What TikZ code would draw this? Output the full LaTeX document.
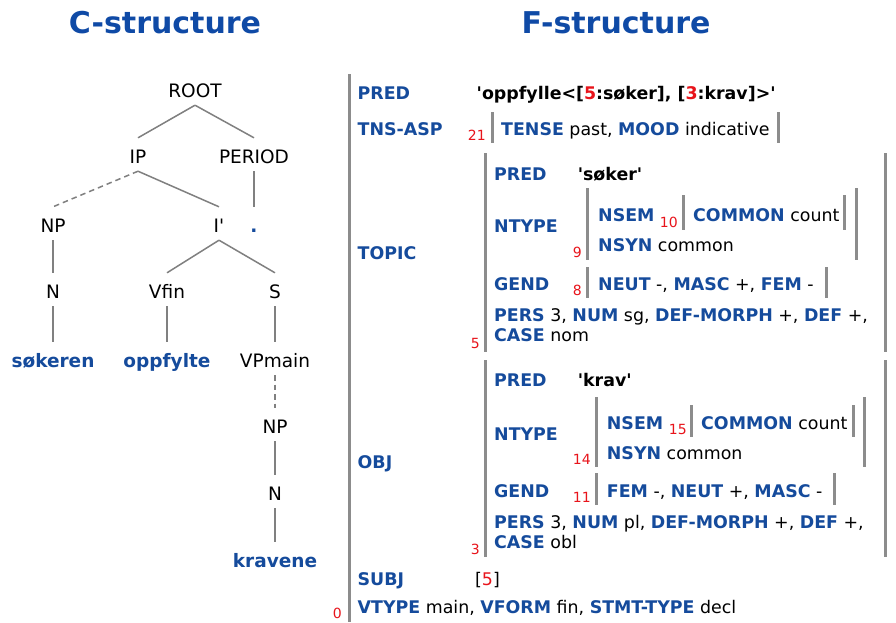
\documentclass[tikz,border=0pt]{standalone}
\usepackage{fontspec}
\setmainfont{DejaVu Sans}
\definecolor{fblue}{HTML}{154B9C}
\definecolor{tblue}{HTML}{0F4AA6}
\definecolor{fred}{HTML}{E8141B}
\definecolor{barg}{HTML}{8C8C8C}
\definecolor{edgeg}{HTML}{808080}
\newcommand\K[1]{\textbf{\textcolor{fblue}{#1}}}
\newcommand\R[1]{\textcolor{fred}{#1}}
\newcommand\sq{\textquotesingle}
\begin{document}
\begin{tikzpicture}[x=1pt,y=-1pt,
  tn/.style={anchor=base, inner sep=0pt, text height=25pt, text depth=8pt, font=\fontsize{18.5}{20}\selectfont},
  leaf/.style={tn, text=fblue, font=\bfseries\fontsize{18.5}{20}\selectfont},
  edge/.style={draw=edgeg, line width=1.5pt},
  dedge/.style={edge, dash pattern=on 5.5pt off 4pt},
  ft/.style={anchor=base west, inner sep=0pt, font=\fontsize{17.4}{20}\selectfont},
  num/.style={anchor=base east, inner sep=0pt, text=fred, font=\fontsize{14}{15}\selectfont},
  fbar/.style={draw=barg, line width=3pt},
  ttl/.style={anchor=base, inner sep=0pt, text=tblue, font=\bfseries\fontsize{30}{32}\selectfont}]
\useasboundingbox (0,0) rectangle (896,622);
\fill[white] (0,0) rectangle (896,622);
% titles
\node[ttl] (ctitle) at (165,33) {C-structure};
\node[ttl] (ftitle) at (616,33) {F-structure};
% c-structure tree
\node[tn] (root) at (195,97) {ROOT};
\node[tn] (ip) at (138,163) {IP};
\node[tn] (period) at (254,163) {PERIOD};
\node[tn] (np1) at (53,232) {NP};
\node[tn] (ibar) at (219,232) {I\sq};
\node[leaf] (dot) at (254,232) {.};
\node[tn] (n1) at (53,298) {N};
\node[tn] (vfin) at (167,298) {Vfin};
\node[tn] (s) at (275,298) {S};
\node[leaf] (w1) at (53,367) {søkeren};
\node[leaf] (w2) at (167,367) {oppfylte};
\node[tn] (vp) at (275,367) {VPmain};
\node[tn] (np2) at (275,433) {NP};
\node[tn] (n2) at (275,500) {N};
\node[leaf] (w3) at (275,567) {kravene};
\draw[edge] (root.south) -- (ip.north);
\draw[edge] (root.south) -- (period.north);
\draw[dedge] (ip.south) -- (np1.north);
\draw[edge] (ip.south) -- (ibar.north);
\draw[edge] (period.south) -- (dot.north);
\draw[edge] (np1.south) -- (n1.north);
\draw[edge] (ibar.south) -- (vfin.north);
\draw[edge] (ibar.south) -- (s.north);
\draw[edge] (n1.south) -- (w1.north);
\draw[edge] (vfin.south) -- (w2.north);
\draw[edge] (s.south) -- (vp.north);
\draw[dedge] (vp.south) -- (np2.north);
\draw[edge] (np2.south) -- (n2.north);
\draw[edge] (n2.south) -- (w3.north);
% f-structure outer
\draw[fbar] (349,74) -- (349,622);
\node[num] (f0) at (342,618) {0};
\node[ft] (fpred) at (357.5,99.5) {\K{PRED}};
\node[ft] (fpredv) at (476.5,99.5) {\textbf{\sq oppfylle<[\R{5}:søker], [\R{3}:krav]>\sq}};
\node[ft] (ftns) at (357.5,135) {\K{TNS-ASP}};
\node[num] (f21) at (486,140) {21};
\draw[fbar] (492.5,112) -- (492.5,143);
\node[ft] (ftnsv) at (501,135) {\K{TENSE} past, \K{MOOD} indicative};
\draw[fbar] (778,112) -- (778,143);
% TOPIC
\node[ft] (ftopic) at (357.5,259) {\K{TOPIC}};
\draw[fbar] (485,153) -- (485,352);
\draw[fbar] (885,153) -- (885,352);
\node[num] (f5) at (480,348) {5};
\node[ft] (tpred) at (494,180) {\K{PRED}};
\node[ft] (tpredv) at (577.6,180) {\textbf{\sq søker\sq}};
\node[ft] (tntype) at (494,232.5) {\K{NTYPE}};
\node[num] (f9) at (582,257) {9};
\draw[fbar] (587.5,188) -- (587.5,260);
\draw[fbar] (856,188) -- (856,260);
\node[ft] (tnsem) at (598,221.5) {\K{NSEM}};
\node[num] (f10) at (678,227) {10};
\draw[fbar] (683,195) -- (683,230);
\node[ft] (tcommon) at (693,221.5) {\K{COMMON} count};
\draw[fbar] (844,195) -- (844,230);
\node[ft] (tnsyn) at (598,251.5) {\K{NSYN} common};
\node[ft] (tgend) at (494,290) {\K{GEND}};
\node[num] (f8) at (582,295) {8};
\draw[fbar] (587.5,267) -- (587.5,298);
\node[ft] (tgendv) at (598,290) {\K{NEUT} -, \K{MASC} +, \K{FEM} -};
\draw[fbar] (826,267) -- (826,298);
\node[ft] (tpers) at (494,321.5) {\K{PERS} 3, \K{NUM} sg, \K{DEF-MORPH} +, \K{DEF} +,};
\node[ft] (tcase) at (494,341.5) {\K{CASE} nom};
% OBJ
\node[ft] (fobj) at (357.5,468) {\K{OBJ}};
\draw[fbar] (485,360) -- (485,557);
\draw[fbar] (885,360) -- (885,557);
\node[num] (f3) at (480,554) {3};
\node[ft] (opred) at (494,386.5) {\K{PRED}};
\node[ft] (opredv) at (577.6,386.5) {\textbf{\sq krav\sq}};
\node[ft] (ontype) at (494,440) {\K{NTYPE}};
\node[num] (f14) at (591,464) {14};
\draw[fbar] (596,397) -- (596,467);
\draw[fbar] (864,397) -- (864,467);
\node[ft] (onsem) at (606.7,429) {\K{NSEM}};
\node[num] (f15) at (687,434) {15};
\draw[fbar] (691,405) -- (691,437);
\node[ft] (ocommon) at (701,429) {\K{COMMON} count};
\draw[fbar] (853,405) -- (853,437);
\node[ft] (onsyn) at (606.7,459) {\K{NSYN} common};
\node[ft] (ogend) at (494,497.5) {\K{GEND}};
\node[num] (f11) at (591,502) {11};
\draw[fbar] (596,473) -- (596,505);
\node[ft] (ogendv) at (606.7,497.5) {\K{FEM} -, \K{NEUT} +, \K{MASC} -};
\draw[fbar] (834,473) -- (834,505);
\node[ft] (opers) at (494,528) {\K{PERS} 3, \K{NUM} pl, \K{DEF-MORPH} +, \K{DEF} +,};
\node[ft] (ocase) at (494,548) {\K{CASE} obl};
% SUBJ and last row
\node[ft] (fsubj) at (357.5,585) {\K{SUBJ}};
\node[ft] (fsubjv) at (475,585) {[\R{5}]};
\node[ft] (fvtype) at (357.5,613) {\K{VTYPE} main, \K{VFORM} fin, \K{STMT-TYPE} decl};
\end{tikzpicture}
\end{document}
